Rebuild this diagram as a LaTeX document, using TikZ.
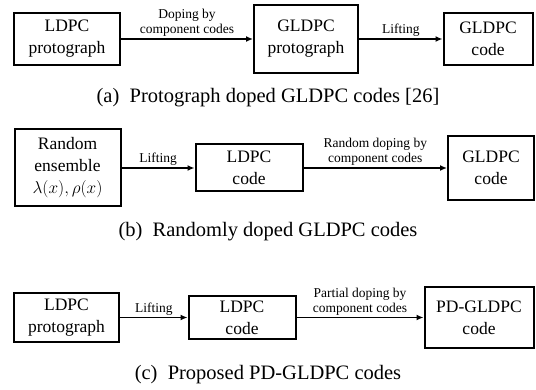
\documentclass[tikz,border=0pt]{standalone}
\usepackage{fontspec}
\setmainfont{Liberation Serif}
\usetikzlibrary{arrows.meta}
\tikzset{
  blk/.style={draw, line width=2pt, align=center, inner sep=0pt,
    font=\fontsize{17.5}{22}\selectfont},
  flow/.style={line width=1.6pt, -{Latex[length=7pt,width=6pt]}},
  lbl/.style={align=center, font=\fontsize{13.5}{15}\selectfont, inner sep=1.5pt},
  subcap/.style={font=\fontsize{20.5}{24}\selectfont, inner sep=0pt}
}
\begin{document}
\begin{tikzpicture}[x=1pt,y=-1pt]
\useasboundingbox (0,0) rectangle (536,390);

% (a) protograph doping
\node[blk, minimum width=106pt, minimum height=52pt] (a1) at (67,39) {LDPC\\protograph};
\node[blk, minimum width=104pt, minimum height=68pt] (a2) at (306,39) {GLDPC\\protograph};
\node[blk, minimum width=89pt, minimum height=52pt] (a3) at (488,39) {GLDPC\\code};
\draw[flow] (a1) -- node[lbl, above] {Doping by\\component codes} (a2);
\draw[flow] (a2) -- node[lbl, above] {Lifting} (a3);
\node[subcap] (capa) at (268,98) {(a)\ \ Protograph doped GLDPC codes [26]};

% (b) random doping
\node[blk, minimum width=106pt, minimum height=77pt] (b1) at (67.5,168) {Random\\ensemble\\$\lambda(x),\rho(x)$};
\node[blk, minimum width=107pt, minimum height=47pt] (b2) at (249,168) {LDPC\\code};
\node[blk, minimum width=86pt, minimum height=64pt] (b3) at (491,168) {GLDPC\\code};
\draw[flow] (b1) -- node[lbl, above] {Lifting} (b2);
\draw[flow] (b2) -- node[lbl, above] {Random doping by\\component codes} (b3);
\node[subcap] (capb) at (268,232) {(b)\ \ Randomly doped GLDPC codes};

% (c) partial doping
\node[blk, minimum width=105pt, minimum height=49pt] (c1) at (66.5,317.5) {LDPC\\protograph};
\node[blk, minimum width=107pt, minimum height=43pt] (c2) at (242,317.5) {LDPC\\code};
\node[blk, minimum width=109pt, minimum height=61pt] (c3) at (479,317.5) {PD-GLDPC\\code};
\draw[flow] (c1) -- node[lbl, above] {Lifting} (c2);
\draw[flow] (c2) -- node[lbl, above] {Partial doping by\\component codes} (c3);
\node[subcap] (capc) at (268,375) {(c)\ \ Proposed PD-GLDPC codes};
\end{tikzpicture}
\end{document}
